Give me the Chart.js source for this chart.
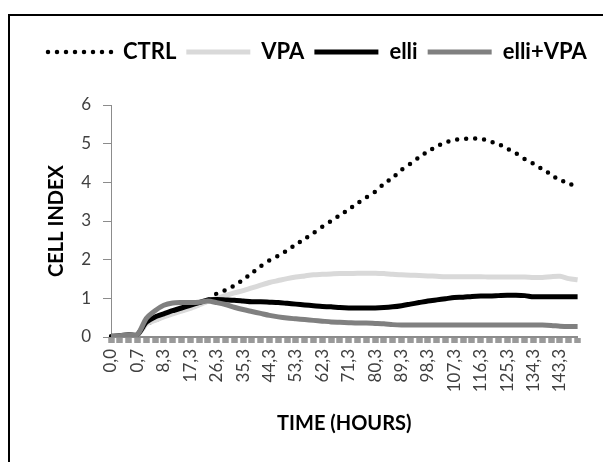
<!DOCTYPE html>
<html>
<head>
<meta charset="utf-8">
<script src="https://cdn.jsdelivr.net/npm/chart.js@4"></script>
<style>
  html, body { margin: 0; padding: 0; background: #fff; }
  #wrap { width: 604px; height: 462px; position: relative; }
</style>
</head>
<body>
<div id="wrap"><canvas id="chart" width="604" height="462"></canvas></div>
<script>
// ── Data ────────────────────────────────────────────────────────────────
const TICK_LABELS = ['0,0', '0,7', '8,3', '17,3', '26,3', '35,3', '44,3', '53,3', '62,3',
  '71,3', '80,3', '89,3', '98,3', '107,3', '116,3', '125,3', '134,3', '143,3'];
const LABEL_EVERY = 3;   // one printed label per 3 categories

const CTRL = [0.02, 0.03, 0.05, 0.05, 0.33, 0.43, 0.52, 0.60, 0.68, 0.76, 0.85, 0.95,
  1.12, 1.21, 1.33, 1.48, 1.65, 1.83, 1.98, 2.10,
  2.24, 2.39, 2.54, 2.69, 2.85, 3.00, 3.15, 3.30, 3.46, 3.61,
  3.76, 3.96, 4.12, 4.32, 4.48, 4.65, 4.80, 4.93, 5.03, 5.10,
  5.12, 5.13, 5.13, 5.06, 4.99, 4.87, 4.75, 4.60, 4.48, 4.34,
  4.20, 4.05, 3.99, 3.80];
const VPA = [0.02, 0.03, 0.05, 0.05, 0.33, 0.43, 0.52, 0.60, 0.67, 0.74, 0.83, 0.92,
  1.00, 1.07, 1.14, 1.20, 1.27, 1.34, 1.41, 1.46,
  1.51, 1.55, 1.58, 1.61, 1.62, 1.63, 1.64, 1.64, 1.65, 1.65,
  1.65, 1.64, 1.62, 1.61, 1.60, 1.59, 1.58, 1.57, 1.56, 1.56,
  1.56, 1.56, 1.56, 1.55, 1.55, 1.55, 1.55, 1.55, 1.54, 1.54,
  1.56, 1.57, 1.51, 1.48];
const ELLI = [0.02, 0.03, 0.06, 0.06, 0.38, 0.52, 0.60, 0.68, 0.75, 0.82, 0.89, 0.96,
  0.97, 0.96, 0.95, 0.93, 0.91, 0.91, 0.90, 0.89,
  0.87, 0.85, 0.83, 0.81, 0.79, 0.78, 0.76, 0.75, 0.75, 0.75,
  0.75, 0.76, 0.78, 0.81, 0.85, 0.89, 0.93, 0.96, 0.99, 1.02,
  1.03, 1.05, 1.06, 1.06, 1.07, 1.08, 1.08, 1.07, 1.04, 1.04,
  1.04, 1.04, 1.04, 1.04];
const ELLI_VPA = [0.02, 0.03, 0.06, 0.06, 0.48, 0.68, 0.82, 0.88, 0.89, 0.89, 0.90, 0.93,
  0.89, 0.84, 0.77, 0.71, 0.66, 0.61, 0.56, 0.52,
  0.49, 0.47, 0.45, 0.43, 0.41, 0.39, 0.38, 0.37, 0.36, 0.36,
  0.35, 0.34, 0.32, 0.31, 0.31, 0.31, 0.31, 0.31, 0.31, 0.31,
  0.31, 0.31, 0.31, 0.31, 0.31, 0.31, 0.31, 0.31, 0.31, 0.31,
  0.30, 0.28, 0.27, 0.27];

// category labels: printed label on every 3rd category, blank in between
const CATEGORIES = CTRL.map((_, i) => (i % LABEL_EVERY === 0 ? (TICK_LABELS[i / LABEL_EVERY] || '') : ''));

const FONT = 'Lato, "Open Sans", sans-serif';
const AXIS_GREY = '#8c8c8c';

// frame round the chart (top + left edge, like the cropped original)
const framePlugin = {
  id: 'frame',
  beforeDraw(chart) {
    const ctx = chart.ctx;
    ctx.save();
    ctx.fillStyle = '#fff';
    ctx.fillRect(0, 0, chart.width, chart.height);
    ctx.fillStyle = '#000';
    ctx.fillRect(8, 14, 595, 2);
    ctx.fillRect(8, 14, 2, chart.height - 14);
    ctx.restore();
  }
};

// keep the legend on one row (it runs past the plot's right edge) and push the plot down below it
const legendGap = {
  id: 'legendGap',
  beforeInit(chart) {
    const fit = chart.legend.fit;
    chart.legend.fit = function () {
      this.maxWidth = 640;
      fit.bind(chart.legend)();
      this.height = 74;
    };
  },
  afterLayout(chart) {
    chart.legend.right = chart.width;
  }
};

const line = (label, data, color, width, order, extra) => Object.assign({
  label, data, order,
  borderColor: color, backgroundColor: color,
  borderWidth: width, pointRadius: 0, tension: 0.25, fill: false,
}, extra || {});

new Chart(document.getElementById('chart'), {
  type: 'line',
  data: {
    labels: CATEGORIES,
    datasets: [
      line('CTRL', CTRL, '#000', 4.5, 4, { borderDash: [0, 9], borderCapStyle: 'round' }),
      line('VPA', VPA, '#d9d9d9', 5, 3),
      line('elli', ELLI, '#000', 5, 2),
      line('elli+VPA', ELLI_VPA, '#808080', 5, 1),
    ]
  },
  options: {
    responsive: false,
    animation: false,
    layout: { padding: { left: 38, right: 21, top: 31, bottom: 12 } },
    plugins: {
      tooltip: { enabled: false },
      legend: {
        position: 'top',
        align: 'start',
        labels: {
          usePointStyle: true,
          pointStyle: 'line',
          pointStyleWidth: 64,
          padding: 10,
          color: '#000',
          font: { family: FONT, size: 22, weight: 'bold' },
          sort: (a, b) => a.datasetIndex - b.datasetIndex,
          // point-style legend items take the point's style, so copy the line's dash back in
          generateLabels: chart => Chart.defaults.plugins.legend.labels.generateLabels(chart).map(item => {
            const ds = chart.data.datasets[item.datasetIndex];
            return Object.assign(item, {
              lineDash: ds.borderDash || [],
              lineCap: ds.borderCapStyle || 'butt',
              lineWidth: ds.borderWidth,
              strokeStyle: ds.borderColor,
            });
          }),
        }
      }
    },
    scales: {
      x: {
        type: 'category',
        offset: false,
        afterFit: s => { s.height = 113; },
        grid: { drawOnChartArea: false, drawTicks: true, tickLength: 6, tickWidth: 6.5, tickColor: '#9a9a9a' },
        border: { color: AXIS_GREY, width: 2 },
        ticks: {
          autoSkip: false, minRotation: 90, maxRotation: 90, padding: 6,
          color: '#404040', font: { family: FONT, size: 17 },
        },
        title: {
          display: true, text: 'TIME (HOURS)', color: '#000',
          font: { family: FONT, size: 20, weight: 'bold' }, padding: { top: 0, bottom: 14 }
        }
      },
      y: {
        min: 0, max: 6,
        afterFit: s => { s.width = 73; },
        grid: { drawOnChartArea: false, drawTicks: true, tickLength: 8, tickColor: AXIS_GREY },
        border: { color: AXIS_GREY, width: 1 },
        ticks: { stepSize: 1, padding: 12, color: '#404040', font: { family: FONT, size: 17 } },
        title: {
          display: true, text: 'CELL INDEX', color: '#000',
          font: { family: FONT, size: 20, weight: 'bold' }, padding: { top: 7, bottom: 0 }
        }
      }
    }
  },
  plugins: [framePlugin, legendGap]
});
</script>
</body>
</html>
